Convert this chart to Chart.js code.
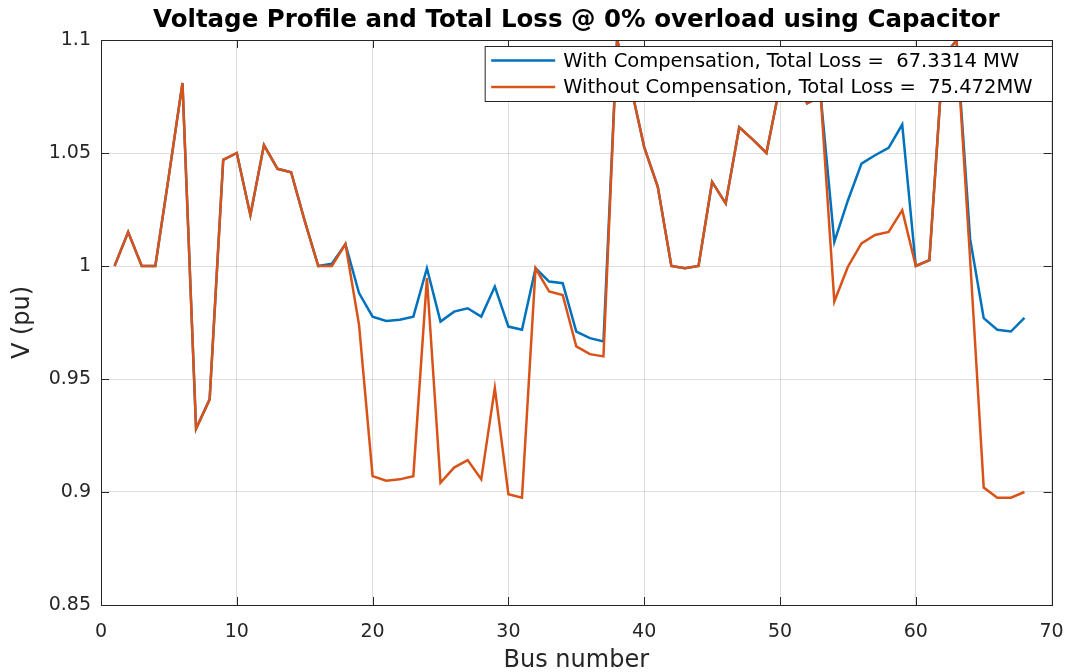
<!DOCTYPE html>
<html>
<head>
<meta charset="utf-8">
<title>Voltage Profile</title>
<script src="https://cdn.jsdelivr.net/npm/chart.js@4/dist/chart.umd.min.js"></script>
<style>
  html, body { margin: 0; padding: 0; background: #fff; }
  canvas { display: block; }
</style>
</head>
<body>
<canvas id="voltageChart" width="1066" height="672"></canvas>
<script>
//// Data

// Bus numbers (x values)
const busNumbers = [
    1, 2, 3, 4, 5, 6, 7, 8, 9, 10, 11, 12, 13, 14, 15, 16, 17,
    18, 19, 20, 21, 22, 23, 24, 25, 26, 27, 28, 29, 30, 31, 32, 33, 34,
    35, 36, 37, 38, 39, 40, 41, 42, 43, 44, 45, 46, 47, 48, 49, 50, 51,
    52, 53, 54, 55, 56, 57, 58, 59, 60, 61, 62, 63, 64, 65, 66, 67, 68
];

// Bus voltage (pu) with capacitor compensation
const voltageWithComp = [
    1.000, 1.015, 1.000, 1.000, 1.040, 1.081, 0.928, 0.941, 1.047, 1.050, 1.0225, 1.0535, 1.043, 1.0415, 1.020, 1.000, 1.001,
    1.0097, 0.988, 0.9776, 0.9757, 0.9762, 0.9776, 0.999, 0.9754, 0.9798, 0.9813, 0.9776, 0.9909, 0.9732, 0.9718, 0.999, 0.9931, 0.9924,
    0.971, 0.9681, 0.9666, 1.100, 1.080, 1.0526, 1.035, 1.000, 0.999, 1.000, 1.0372, 1.0277, 1.0614, 1.0559, 1.050, 1.080, 1.085,
    1.072, 1.075, 1.0107, 1.029, 1.0453, 1.049, 1.0523, 1.0626, 1.000, 1.0026, 1.092, 1.100, 1.012, 0.9769, 0.9718, 0.971, 0.977
];

// Bus voltage (pu) without compensation
const voltageWithoutComp = [
    1.000, 1.015, 1.000, 1.000, 1.040, 1.081, 0.928, 0.941, 1.047, 1.050, 1.0225, 1.0535, 1.043, 1.0415, 1.020, 1.000, 1.000,
    1.0097, 0.974, 0.907, 0.905, 0.9056, 0.907, 0.9946, 0.9041, 0.9108, 0.9141, 0.9056, 0.946, 0.899, 0.8975, 0.999, 0.9887, 0.9872,
    0.9644, 0.961, 0.960, 1.100, 1.080, 1.0526, 1.035, 1.000, 0.999, 1.000, 1.0372, 1.0277, 1.0614, 1.0559, 1.050, 1.080, 1.085,
    1.072, 1.075, 0.9843, 0.9997, 1.010, 1.0137, 1.0151, 1.0247, 1.000, 1.0026, 1.092, 1.100, 1.003, 0.902, 0.8975, 0.8975, 0.900
];

// Tick values
const xTickValues = [0, 10, 20, 30, 40, 50, 60, 70];
const yTickValues = [0.85, 0.9, 0.95, 1, 1.05, 1.1];

// Series labels
const seriesLabels = [
    'With Compensation, Total Loss =  67.3314 MW',
    'Without Compensation, Total Loss =  75.472MW'
];

//// Styles
const fontFamily = "'DejaVu Sans', sans-serif";
const axisColor = '#262626';
const gridColor = 'rgba(38, 38, 38, 0.15)';
const seriesColors = ['#0072BD', '#D95319'];
const tickLength = 8;

// Box around the axes with inward ticks on all four sides (matlab style)
const axesBoxPlugin = {
    id: 'axesBox',
    afterDatasetsDraw(chart) {
        const { ctx, chartArea: a, scales: { x, y } } = chart;
        ctx.save();
        ctx.strokeStyle = axisColor;
        ctx.lineWidth = 1;
        ctx.beginPath();
        x.ticks.forEach(t => {
            const px = Math.round(x.getPixelForValue(t.value)) + 0.5;
            ctx.moveTo(px, a.bottom); ctx.lineTo(px, a.bottom - tickLength);
            ctx.moveTo(px, a.top); ctx.lineTo(px, a.top + tickLength);
        });
        y.ticks.forEach(t => {
            const py = Math.round(y.getPixelForValue(t.value)) + 0.5;
            ctx.moveTo(a.left, py); ctx.lineTo(a.left + tickLength, py);
            ctx.moveTo(a.right, py); ctx.lineTo(a.right - tickLength, py);
        });
        ctx.stroke();
        ctx.strokeRect(Math.round(a.left) + 0.5, Math.round(a.top) + 0.5,
            Math.round(a.right) - Math.round(a.left), Math.round(a.bottom) - Math.round(a.top));
        ctx.restore();
    }
};

// Legend box inside the top right corner of the axes
const insideLegendPlugin = {
    id: 'insideLegend',
    afterDraw(chart) {
        const { ctx, chartArea: a } = chart;
        const datasets = chart.data.datasets;
        ctx.save();
        ctx.font = "19.5px " + fontFamily;
        const textW = Math.max(...datasets.map(d => ctx.measureText(d.label).width));
        const right = Math.round(a.right) + 0.5;
        const top = Math.round(a.top) + 6.5;
        const rowH = 26.5;
        const boxW = 78 + textW + 20;
        const boxH = 55;
        const left = right - boxW;
        ctx.fillStyle = '#fff';
        ctx.fillRect(left, top, boxW, boxH);
        ctx.strokeStyle = axisColor;
        ctx.lineWidth = 1;
        ctx.strokeRect(left, top, boxW, boxH);
        datasets.forEach((d, i) => {
            const cy = top + 14 + i * rowH;
            ctx.strokeStyle = d.borderColor;
            ctx.lineWidth = 2.5;
            ctx.beginPath();
            ctx.moveTo(left + 6, cy);
            ctx.lineTo(left + 70, cy);
            ctx.stroke();
            ctx.fillStyle = '#000';
            ctx.textBaseline = 'middle';
            ctx.textAlign = 'left';
            ctx.fillText(d.label, left + 78, cy + 1);
        });
        ctx.restore();
    }
};

//// Chart
const makePoints = values => busNumbers.map((b, i) => ({ x: b, y: values[i] }));

window.onload = () => {
    const canvas = document.getElementById('voltageChart');

    new Chart(canvas, {
        type: 'line',
        data: {
            datasets: [{
                label: seriesLabels[0],
                data: makePoints(voltageWithComp),
                borderColor: seriesColors[0],
                borderWidth: 2.5,
                pointRadius: 0,
                tension: 0,
                order: 2
            }, {
                label: seriesLabels[1],
                data: makePoints(voltageWithoutComp),
                borderColor: seriesColors[1],
                borderWidth: 2.5,
                pointRadius: 0,
                tension: 0,
                order: 1
            }]
        },
        options: {
            responsive: false,
            devicePixelRatio: 1,
            animation: false,
            layout: { padding: { left: 0, right: 14.4, top: 0, bottom: 0 } },
            plugins: {
                legend: { display: false },
                tooltip: { enabled: false },
                title: {
                    display: true,
                    text: 'Voltage Profile and Total Loss @ 0% overload using Capacitor',
                    color: '#000',
                    fullSize: false,
                    font: { family: fontFamily, size: 24.5, weight: 'bold' },
                    padding: { top: 5.5, bottom: 5.1 }
                }
            },
            scales: {
                x: {
                    type: 'linear',
                    min: 0,
                    max: 70,
                    afterBuildTicks: scale => { scale.ticks = xTickValues.map(v => ({ value: v })); },
                    afterFit: scale => {
                        scale.height = 67;
                        scale.paddingLeft = 0;
                        scale.paddingRight = 0;
                    },
                    grid: { color: gridColor, drawTicks: false },
                    border: { display: false },
                    ticks: {
                        color: axisColor,
                        padding: 16,
                        maxRotation: 0,
                        font: { family: fontFamily, size: 19 }
                    },
                    title: {
                        display: true,
                        text: 'Bus number',
                        color: axisColor,
                        font: { family: fontFamily, size: 24, lineHeight: 0.95 },
                        padding: { top: 0, bottom: 0 }
                    }
                },
                y: {
                    min: 0.85,
                    max: 1.1,
                    afterBuildTicks: scale => { scale.ticks = yTickValues.map(v => ({ value: v })); },
                    afterFit: scale => {
                        scale.width = 101;
                        scale.paddingTop = 0;
                        scale.paddingBottom = 0;
                    },
                    grid: { color: gridColor, drawTicks: false },
                    border: { display: false },
                    ticks: {
                        color: axisColor,
                        padding: 10,
                        font: { family: fontFamily, size: 19 },
                        callback: v => String(+v.toFixed(2))
                    },
                    title: {
                        display: true,
                        text: 'V (pu)',
                        color: axisColor,
                        font: { family: fontFamily, size: 24 },
                        padding: { top: 8, bottom: 0 }
                    }
                }
            }
        },
        plugins: [axesBoxPlugin, insideLegendPlugin]
    });
};
</script>
</body>
</html>
